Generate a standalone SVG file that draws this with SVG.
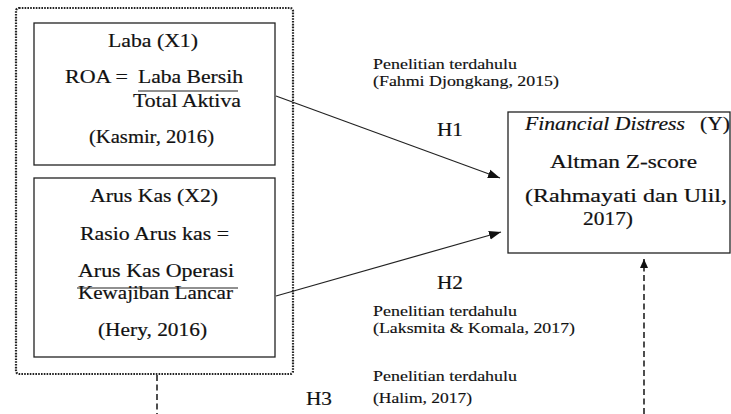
<svg xmlns="http://www.w3.org/2000/svg" width="731" height="414" viewBox="0 0 731 414" font-family="Liberation Serif, serif">
<style>
.t{font-family:Liberation Serif, serif;font-size:19.5px;fill:#111;stroke:#111;stroke-width:0.2;}
.s{font-family:Liberation Serif, serif;font-size:14.5px;fill:#111;stroke:#111;stroke-width:0.15;}
.box{fill:#fff;stroke:#222;stroke-width:1.3;}
.ln{stroke:#222;stroke-width:1.2;fill:none;}
.dash{stroke:#222;stroke-width:1.6;stroke-dasharray:6 3.5;fill:none;}
</style>
<defs>
<marker id="ah" markerUnits="userSpaceOnUse" markerWidth="14" markerHeight="10" refX="12" refY="5" orient="auto">
<path d="M0,0.5 L12,5 L0,9.5 Z" fill="#111"/>
</marker>
<marker id="ahs" markerUnits="userSpaceOnUse" markerWidth="10" markerHeight="9" refX="9" refY="4.5" orient="auto">
<path d="M0,0.5 L9,4.5 L0,8.5 Z" fill="#111"/>
</marker>
</defs>
<rect width="731" height="414" fill="#fff"/>
<g id="group-x">
<rect x="16" y="8" width="277" height="366" rx="3" fill="none" stroke="#222" stroke-width="2.2" stroke-dasharray="1.6 1.2"/>
</g>
<g id="node-x1">
<rect class="box" x="34" y="23" width="241" height="142"/>
<text class="t" x="108" y="47" textLength="90" lengthAdjust="spacingAndGlyphs">Laba (X1)</text>
<text class="t" x="65" y="83" textLength="63" lengthAdjust="spacingAndGlyphs">ROA =</text>
<text class="t" x="138" y="83" textLength="105" lengthAdjust="spacingAndGlyphs">Laba Bersih</text>
<line x1="138" y1="91" x2="238" y2="91" stroke="#222" stroke-width="1.2"/>
<text class="t" x="133" y="107" textLength="108" lengthAdjust="spacingAndGlyphs">Total Aktiva</text>
<text class="t" x="89" y="143" textLength="125" lengthAdjust="spacingAndGlyphs">(Kasmir, 2016)</text>
</g>
<g id="node-x2">
<rect class="box" x="34" y="178" width="241" height="179"/>
<text class="t" x="90" y="202" textLength="128" lengthAdjust="spacingAndGlyphs">Arus Kas (X2)</text>
<text class="t" x="80" y="240" textLength="149" lengthAdjust="spacingAndGlyphs">Rasio Arus kas =</text>
<text class="t" x="78" y="277" textLength="156" lengthAdjust="spacingAndGlyphs">Arus Kas Operasi</text>
<line x1="77" y1="288" x2="238" y2="288" stroke="#222" stroke-width="1.2"/>
<text class="t" x="78" y="299" textLength="155" lengthAdjust="spacingAndGlyphs">Kewajiban Lancar</text>
<text class="t" x="98" y="336" textLength="109" lengthAdjust="spacingAndGlyphs">(Hery, 2016)</text>
</g>
<g id="node-y">
<rect class="box" x="508" y="112" width="222" height="141"/>
<text class="t" x="525" y="130" font-style="italic" textLength="160" lengthAdjust="spacingAndGlyphs">Financial Distress</text>
<text class="t" x="700" y="130" textLength="30" lengthAdjust="spacingAndGlyphs">(Y)</text>
<text class="t" x="550" y="168" textLength="147" lengthAdjust="spacingAndGlyphs">Altman Z-score</text>
<text class="t" x="525" y="202" textLength="202" lengthAdjust="spacingAndGlyphs">(Rahmayati dan Ulil,</text>
<text class="t" x="583" y="225" textLength="50" lengthAdjust="spacingAndGlyphs">2017)</text>
</g>
<g id="connectors">
<line class="ln" x1="276" y1="96" x2="500" y2="178" marker-end="url(#ah)"/>
<line class="ln" x1="276" y1="296" x2="501" y2="232" marker-end="url(#ah)"/>
<line class="dash" x1="644" y1="414" x2="644" y2="259" marker-end="url(#ahs)"/>
<line class="dash" x1="157" y1="375" x2="157" y2="414"/>
</g>
<g id="labels">
<text class="s" x="373" y="69" textLength="144" lengthAdjust="spacingAndGlyphs">Penelitian terdahulu</text>
<text class="s" x="373" y="86" textLength="186" lengthAdjust="spacingAndGlyphs">(Fahmi Djongkang, 2015)</text>
<text class="t" x="437" y="136" textLength="26" lengthAdjust="spacingAndGlyphs">H1</text>
<text class="t" x="437" y="289" textLength="26" lengthAdjust="spacingAndGlyphs">H2</text>
<text class="s" x="373" y="316" textLength="144" lengthAdjust="spacingAndGlyphs">Penelitian terdahulu</text>
<text class="s" x="373" y="333" textLength="202" lengthAdjust="spacingAndGlyphs">(Laksmita &amp; Komala, 2017)</text>
<text class="s" x="373" y="381" textLength="144" lengthAdjust="spacingAndGlyphs">Penelitian terdahulu</text>
<text class="s" x="373" y="403" textLength="99" lengthAdjust="spacingAndGlyphs">(Halim, 2017)</text>
<text class="t" x="306" y="405" textLength="26" lengthAdjust="spacingAndGlyphs">H3</text>
</g>
</svg>
